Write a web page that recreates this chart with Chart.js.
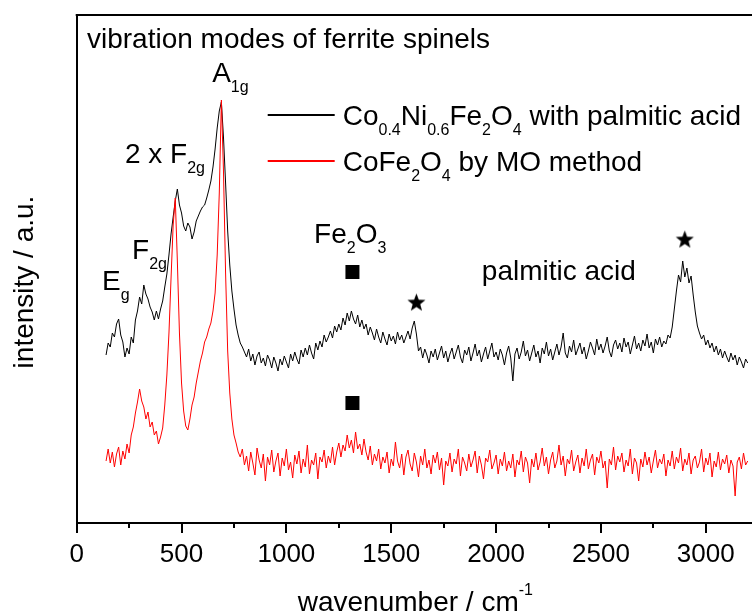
<!DOCTYPE html>
<html>
<head>
<meta charset="utf-8">
<title>Raman spectra</title>
<script src="https://cdn.jsdelivr.net/npm/chart.js@4.4.1/dist/chart.umd.min.js"></script>
<style>
  html, body { margin: 0; padding: 0; background: #fff; overflow: hidden; }
  canvas { display: block; }
</style>
</head>
<body>
<canvas id="chart" width="765" height="614"></canvas>
<script>
// Raman shift grid of both spectra (cm-1)
var wnStart = 140;
var wnStep = 10;

// Co0.4Ni0.6Fe2O4 with palmitic acid, 140..3200 cm-1 (arb. units)
var coNiSpectrum = [
  168,180,176,190,186,199,
  204,188,181,166,175,169,186,180,203,212,
  226,219,238,229,224,216,211,203,212,204,
  214,222,236,249,268,289,306,322,334,318,
  310,297,292,300,296,284,291,302,307,312,
  316,318,325,333,342,356,374,395,412,421,
  386,340,292,258,232,214,198,188,180,176,
  171,166,174,162,169,158,167,171,160,165,
  157,168,163,155,166,160,152,164,158,167,
  161,155,169,162,171,164,159,173,166,175,
  168,178,170,164,180,173,182,176,188,181,
  186,192,185,197,191,199,193,205,198,210,
  202,212,204,199,208,196,203,194,199,188,
  196,190,183,194,186,180,191,184,178,189,
  182,187,179,191,183,188,180,186,192,184,
  195,202,189,172,176,165,174,168,160,172,
  166,174,163,170,177,165,172,161,169,175,
  164,171,178,166,160,173,168,176,162,170,
  179,167,173,161,169,176,164,172,180,166,
  171,163,174,168,158,170,177,165,142,169,
  175,164,171,182,167,173,162,170,178,166,
  172,160,175,169,181,167,174,163,171,179,
  168,176,190,170,165,177,171,183,168,174,
  180,169,176,164,172,181,175,168,184,173,
  179,170,177,186,172,166,178,183,174,180,
  171,185,176,181,169,178,187,174,180,172,
  183,177,189,175,181,170,184,178,186,176,
  182,179,188,185,196,214,232,248,241,262,
  246,255,240,247,228,211,197,190,184,188,
  178,183,175,180,171,177,168,174,165,172,
  166,161,170,163,168,158,166,161,155,164,
  160
];

// CoFe2O4 by MO method, same grid
var coFeSpectrum = [
  62,74,60,71,56,69,
  76,58,72,64,79,70,88,96,110,121,
  134,122,116,104,111,96,101,88,92,79,
  86,95,118,148,190,245,298,325,262,190,
  140,112,97,93,104,118,126,140,151,162,
  170,181,186,194,200,212,230,268,330,423,
  352,250,172,130,104,88,80,71,66,74,
  58,67,52,71,60,48,75,63,55,69,
  42,66,58,73,51,62,70,47,65,57,
  74,53,61,45,68,59,72,50,64,56,
  78,49,63,58,70,44,66,61,73,55,
  67,60,76,58,71,80,66,78,72,88,
  75,83,70,91,74,79,68,84,71,63,
  77,58,69,62,74,54,66,60,71,50,
  64,57,81,62,55,69,48,66,73,59,
  52,70,61,46,67,58,74,55,63,49,
  68,60,71,53,65,38,62,57,70,51,
  64,59,74,47,66,60,52,69,56,63,
  72,50,67,58,44,65,61,73,54,60,
  68,49,64,57,71,52,62,55,69,46,
  63,58,72,51,66,60,40,64,56,70,
  53,61,75,57,66,49,63,71,55,62,
  78,58,67,47,64,59,73,52,61,68,
  50,65,57,74,54,63,69,48,66,60,
  72,55,62,35,64,58,76,53,67,61,
  70,51,63,57,74,49,65,60,42,64,
  56,71,58,66,50,62,73,55,64,59,
  69,47,63,57,72,54,66,60,75,52,
  64,58,70,49,63,67,55,61,74,51,
  65,58,70,46,62,56,71,53,64,59,
  68,50,63,57,27,61,66,54,70,58,
  62
];

// Fe2O3 marks (square) and palmitic acid bands (star)
var squareMarks = [{ x: 1315, y: 251 }, { x: 1315, y: 120 }];
var starMarks = [{ x: 1620, y: 220 }, { x: 2900, y: 283 }];

var xMin = 0, xMax = 3230;
var majorTicks = [0, 500, 1000, 1500, 2000, 2500, 3000];
var minorTicks = [250, 750, 1250, 1750, 2250, 2750];
var yMin = 0, yMax = 508;

// text pieces: 0 = normal, 1 = subscript, 2 = superscript
var peakLabels = [
  { x: 49, y: 475, parts: [['vibration modes of ferrite spinels', 0]] },
  { x: 646, y: 441, parts: [['A', 0], ['1g', 1]] },
  { x: 230, y: 360, parts: [['2 x F', 0], ['2g', 1]] },
  { x: 264, y: 264, parts: [['F', 0], ['2g', 1]] },
  { x: 121, y: 233, parts: [['E', 0], ['g', 1]] },
  { x: 1132, y: 280, parts: [['Fe', 0], ['2', 1], ['O', 0], ['3', 1]] },
  { x: 1932, y: 243, parts: [['palmitic acid', 0]] }
];
var legendItems = [
  { color: '#000000', parts: [['Co', 0], ['0.4', 1], ['Ni', 0], ['0.6', 1], ['Fe', 0], ['2', 1], ['O', 0], ['4', 1], [' with palmitic acid', 0]] },
  { color: '#ff0000', parts: [['CoFe', 0], ['2', 1], ['O', 0], ['4', 1], [' by MO method', 0]] }
];
var xTitle = [['wavenumber / cm', 0], ['-1', 2]];
var yTitle = 'intensity / a.u.';

var FONT = '"Liberation Sans", Arial, sans-serif';
Chart.defaults.font.family = FONT;
Chart.defaults.color = '#000';

function toPoints(values) {
  return values.map(function (v, i) { return { x: wnStart + i * wnStep, y: v }; });
}

function makeStar(r) {
  var c = document.createElement('canvas');
  c.width = c.height = Math.ceil(r * 2) + 2;
  var g = c.getContext('2d');
  var cx = c.width / 2, cy = c.height / 2;
  g.beginPath();
  for (var k = 0; k < 10; k++) {
    var rad = k % 2 ? r * 0.42 : r;
    var a = -Math.PI / 2 + k * Math.PI / 5;
    g.lineTo(cx + rad * Math.cos(a), cy + rad * Math.sin(a));
  }
  g.closePath();
  g.fillStyle = '#000';
  g.fill();
  return c;
}

function drawParts(ctx, parts, x, y) {
  parts.forEach(function (p) {
    var size = p[1] ? 16 : 28;
    var dy = p[1] === 1 ? 10 : (p[1] === 2 ? -16 : 0);
    ctx.font = size + 'px ' + FONT;
    ctx.fillText(p[0], x, y + dy);
    x += ctx.measureText(p[0]).width;
  });
  return x;
}

function partsWidth(ctx, parts) {
  var w = 0;
  parts.forEach(function (p) {
    ctx.font = (p[1] ? 16 : 28) + 'px ' + FONT;
    w += ctx.measureText(p[0]).width;
  });
  return w;
}

var decorations = {
  id: 'decorations',
  afterDraw: function (chart) {
    var ctx = chart.ctx, xs = chart.scales.x, ys = chart.scales.y, area = chart.chartArea;
    ctx.save();
    ctx.strokeStyle = '#000';
    ctx.fillStyle = '#000';
    ctx.lineWidth = 2;

    // top and right edge of the frame
    ctx.beginPath();
    ctx.moveTo(area.left - 1, area.top);
    ctx.lineTo(area.right, area.top);
    ctx.lineTo(area.right, area.bottom);
    ctx.stroke();

    // minor ticks
    ctx.beginPath();
    minorTicks.forEach(function (v) {
      var px = Math.round(xs.getPixelForValue(v));
      ctx.moveTo(px, area.bottom);
      ctx.lineTo(px, area.bottom + 5);
    });
    ctx.stroke();

    ctx.textAlign = 'left';
    ctx.textBaseline = 'alphabetic';
    peakLabels.forEach(function (l) {
      drawParts(ctx, l.parts, xs.getPixelForValue(l.x), ys.getPixelForValue(l.y));
    });

    // legend
    legendItems.forEach(function (item, i) {
      var ly = area.top + 100 + i * 46;
      ctx.strokeStyle = item.color;
      ctx.lineWidth = 2;
      ctx.beginPath();
      ctx.moveTo(area.left + 191, ly);
      ctx.lineTo(area.left + 258, ly);
      ctx.stroke();
      ctx.fillStyle = '#000';
      drawParts(ctx, item.parts, area.left + 266, ly + 10);
    });

    // axis titles
    var cx = (area.left + area.right) / 2;
    drawParts(ctx, xTitle, cx - partsWidth(ctx, xTitle) / 2, 611);

    ctx.translate(33, 282);
    ctx.rotate(-Math.PI / 2);
    ctx.textAlign = 'center';
    ctx.font = '28px ' + FONT;
    ctx.fillText(yTitle, 0, 0);
    ctx.restore();
  }
};

var ctx = document.getElementById('chart').getContext('2d');
var chart = new Chart(ctx, {
  type: 'line',
  data: {
    datasets: [
      {
        label: 'CoFe2O4 by MO method',
        data: toPoints(coFeSpectrum),
        borderColor: '#ff0000',
        borderWidth: 1,
        pointRadius: 0,
        tension: 0
      },
      {
        label: 'Co0.4Ni0.6Fe2O4 with palmitic acid',
        data: toPoints(coNiSpectrum),
        borderColor: '#000000',
        borderWidth: 1,
        pointRadius: 0,
        tension: 0
      },
      {
        label: 'Fe2O3',
        data: squareMarks,
        showLine: false,
        pointStyle: 'rect',
        pointRadius: 9.9,
        pointBackgroundColor: '#000',
        pointBorderWidth: 0
      },
      {
        label: 'palmitic acid',
        data: starMarks,
        showLine: false,
        pointStyle: makeStar(9.5),
        pointRadius: 10
      }
    ]
  },
  options: {
    responsive: false,
    animation: false,
    devicePixelRatio: 1,
    layout: { padding: { left: 0, top: 15, right: 1, bottom: 0 } },
    plugins: { legend: { display: false }, tooltip: { enabled: false } },
    scales: {
      x: {
        type: 'linear',
        min: xMin,
        max: xMax,
        afterBuildTicks: function (scale) {
          scale.ticks = majorTicks.map(function (v) { return { value: v }; });
        },
        afterFit: function (scale) { scale.height = 91; },
        ticks: {
          padding: 6,
          font: { size: 26 },
          color: '#000',
          callback: function (v) { return String(v); }
        },
        grid: { display: true, drawOnChartArea: false, drawTicks: true, tickLength: 10, tickWidth: 2, lineWidth: 2, tickColor: '#000' },
        border: { display: true, width: 2, color: '#000' }
      },
      y: {
        min: yMin,
        max: yMax,
        afterFit: function (scale) { scale.width = 76.7; },
        ticks: { display: false },
        grid: { display: false },
        border: { display: true, width: 2, color: '#000' }
      }
    }
  },
  plugins: [decorations]
});
</script>
</body>
</html>
